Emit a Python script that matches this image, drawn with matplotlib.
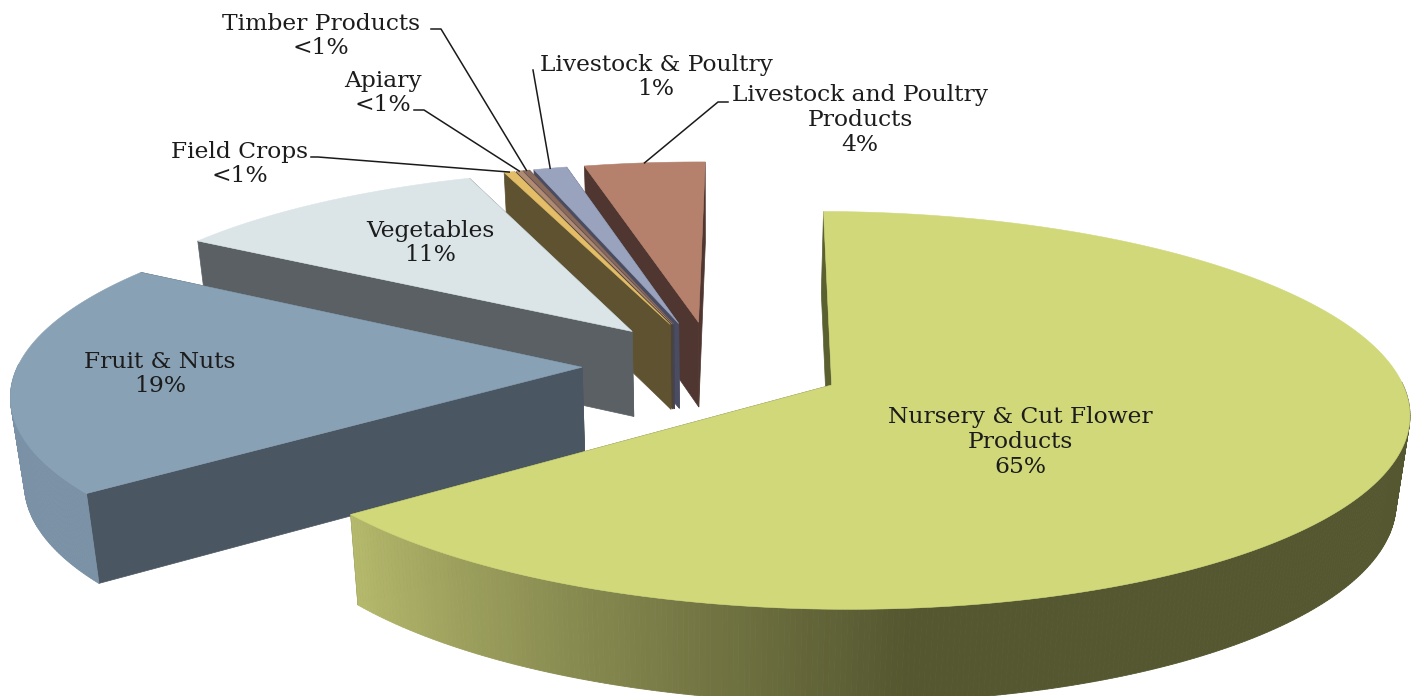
import numpy as np
import matplotlib
matplotlib.use("Agg")
import matplotlib.pyplot as plt
from matplotlib.patches import Polygon

# Slices clockwise, starting at the top of the pie
names = ["Nursery & Cut Flower\nProducts", "Fruit & Nuts", "Vegetables", "Field Crops", "Apiary",
         "Timber Products", "Livestock & Poultry", "Livestock and Poultry\nProducts"]
shares = [65, 19.5, 10.6, 0.35, 0.2, 0.2, 1.1, 4]
share_labels = ["65%", "19%", "11%", "<1%", "<1%", "<1%", "1%", "4%"]

top_colors = ["#d0d87a", "#89a1b5", "#dbe5e8", "#e3bd68", "#b08a72", "#8a6a5a", "#9aa3bd", "#b5806c"]
cut_colors = ["#5b6030", "#4a5662", "#5a6063", "#5f5230", "#4d4338", "#444458", "#4a4c62", "#4f3630"]
side_dark = ["#555730", "#7b92a6", "#5a6063", "#5f5230", "#4d4338", "#444458", "#4a4c62", "#4f3630"]
side_light = ["#b5b96c", "#7b92a6", "#5a6063", "#5f5230", "#4d4338", "#444458", "#4a4c62", "#4f3630"]

# Label centres and leader elbows in picture pixels
label_pos = [(1020, 442), (160, 374), (430, 243), (240, 164), (383, 93), (321, 36), (656, 77), (860, 120)]
leader_start = [None, None, None, (311, 157), (414, 110), (431, 29), (533, 70), (728, 102)]
elbows = [None, None, None, (318, 157), (424, 110), (441, 29), (533, 70), (718, 102)]

# 3D pie set-up
cx, cy = 713, 365
rx, ry = 564, 190.6
persp = 0.126
explode = 0.232
depth = 86
start_angle = 0.6


def project(u, v, t=0.0):
    w = 1 + persp * v
    return cx + rx * u / w * (1 - 0.02 * t), cy - ry * v / w * (1 + 0.03 * t) + depth * t


def hex_mix(c1, c2, f):
    a = np.array(matplotlib.colors.to_rgb(c1))
    b = np.array(matplotlib.colors.to_rgb(c2))
    return a + (b - a) * f


fig = plt.figure(figsize=(14.21, 6.96), dpi=100)
ax = fig.add_axes([0, 0, 1, 1])
ax.set_xlim(0, 1421)
ax.set_ylim(696, 0)
ax.axis("off")

edges = start_angle + 360 * np.concatenate([[0], np.cumsum(shares)]) / np.sum(shares)

# Back slices first so the front ones paint over them
for i in range(len(shares) - 1, -1, -1):
    a0, a1 = edges[i], edges[i + 1]
    mid = np.radians((a0 + a1) / 2)
    ou, ov = explode * np.sin(mid), explode * np.cos(mid)
    th = np.radians(np.linspace(a0, a1, max(int(a1 - a0) * 2, 4)))
    us = ou + np.sin(th)
    vs = ov + np.cos(th)
    z = 10 + (len(shares) - i) * 10

    # straight cut faces
    for ang in (a0, a1):
        r = np.radians(ang)
        face = [project(ou, ov), project(ou + np.sin(r), ov + np.cos(r)),
                project(ou + np.sin(r), ov + np.cos(r), 1), project(ou, ov, 1)]
        ax.add_patch(Polygon(face, closed=True, fc=cut_colors[i], ec=cut_colors[i], lw=0.5, zorder=z))

    # outer rim, only the part facing the viewer
    for k in range(len(th) - 1):
        deg = np.degrees((th[k] + th[k + 1]) / 2)
        if np.cos(np.radians(deg)) > 0.02:
            continue
        f = np.clip((deg - 175) / 57, 0, 1)
        col = hex_mix(side_dark[i], side_light[i], f)
        seg = [project(us[k], vs[k]), project(us[k + 1], vs[k + 1]),
               project(us[k + 1], vs[k + 1], 1), project(us[k], vs[k], 1)]
        ax.add_patch(Polygon(seg, closed=True, fc=col, ec=col, lw=0.6, zorder=z + 1))

    # top face
    tx, ty = project(us, vs)
    ox, oy = project(ou, ov)
    ax.fill(np.r_[ox, tx], np.r_[oy, ty], fc=top_colors[i], ec=top_colors[i], lw=0.4, zorder=z + 2)

    # leader line to the rim
    if elbows[i] is not None:
        hx, hy = project(ou + np.sin(mid), ov + np.cos(mid))
        ax.plot([leader_start[i][0], elbows[i][0], hx], [leader_start[i][1], elbows[i][1], hy],
                color="#1a1a1a", lw=1.1, zorder=200)

for name, pct, (lx, ly) in zip(names, share_labels, label_pos):
    ax.text(lx, ly, name + "\n" + pct, ha="center", va="center", family=["DejaVu Serif"], fontsize=16.8,
            color="#1c1c1c", linespacing=1.17, zorder=300)

fig.savefig("out.png", dpi=100, facecolor="white")
